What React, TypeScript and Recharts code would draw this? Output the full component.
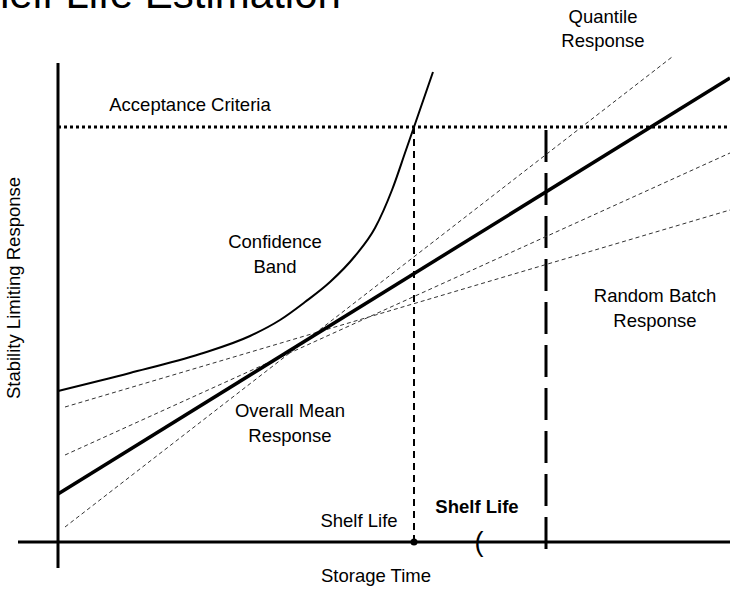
import { LineChart, Line, XAxis, YAxis, ReferenceLine, ReferenceDot } from 'recharts';

// storage time (x) and response (y) in chart units
const meanTime = [0, 67.2];
const meanResponse = [4.8, 46.4];

const bandTime = [0, 7.2, 14.2, 19.2, 22.2, 24.7, 27.2, 29.7, 31.7, 33.4, 34.8, 35.6, 37.5];
const bandResponse = [15.1, 16.9, 18.8, 20.6, 22.2, 24.0, 26.0, 28.6, 31.4, 35.2, 39.2, 41.5, 47.0];

const batchTime = [0.7, 67.2];
const batchLowResponse = [13.5, 33.2];
const batchHighResponse = [8.7, 38.9];

const quantileTime = [0.7, 61.4];
const quantileResponse = [1.5, 48.5];

const acceptance = 41.5;
const shelfLife = 35.6;
const batchShelfLife = 48.8;

const xDomain = [-5.8, 67.2];
const yDomain = [-4.7, 54.2];

const FONT = "Arial, 'Liberation Sans', sans-serif";

const toPoints = (t: number[], y: number[]) => t.map((v, i) => ({ t: v, y: y[i] }));

const meanData = toPoints(meanTime, meanResponse);
const bandData = toPoints(bandTime, bandResponse);
const batchLowData = toPoints(batchTime, batchLowResponse);
const batchHighData = toPoints(batchTime, batchHighResponse);
const quantileData = toPoints(quantileTime, quantileResponse);

// annotation text: anchor point (baseline of first line)
const notes = [
  { t: 13.2, y: 43.15, lines: ['Acceptance Criteria'], gap: 25 },
  { t: 54.5, y: 51.9, lines: ['Quantile', 'Response'], gap: 24 },
  { t: 21.7, y: 29.4, lines: ['Confidence', 'Band'], gap: 25 },
  { t: 59.7, y: 24.0, lines: ['Random Batch', 'Response'], gap: 25 },
  { t: 23.2, y: 12.5, lines: ['Overall Mean', 'Response'], gap: 25 },
  { t: 30.1, y: 1.5, lines: ['Shelf Life'], gap: 25 },
  { t: 41.9, y: 2.9, lines: ['Shelf Life'], gap: 25, bold: true },
  { t: 31.8, y: -3.95, lines: ['Storage Time'], gap: 25 },
];

const noteLabel = (lines: string[], gap: number, bold = false) => (props: any) => {
  const { x, y } = props.viewBox;
  return (
    <text x={x} y={y} textAnchor="middle" fontSize={18.5} fontFamily={FONT} fontWeight={bold ? 'bold' : 'normal'} fill="#000">
      {lines.map((l, i) => (
        <tspan key={i} x={x} dy={i === 0 ? 0 : gap}>
          {l}
        </tspan>
      ))}
    </text>
  );
};

const titleLabel = (props: any) => {
  const { x, y } = props.viewBox;
  return (
    <text x={x} y={y} fontSize={42} fontFamily={FONT} fill="#000">
      Shelf Life Estimation
    </text>
  );
};

const yTitle = (props: any) => {
  const { x, y } = props.viewBox;
  return (
    <text x={x} y={y} textAnchor="middle" fontSize={18.5} fontFamily={FONT} fill="#000" transform={`rotate(-90 ${x} ${y})`}>
      Stability Limiting Response
    </text>
  );
};

const paren = (props: any) => {
  const { x, y } = props.viewBox;
  return (
    <text x={x} y={y} textAnchor="middle" fontSize={27} fontFamily={FONT} fontWeight={300} fill="#000">
      (
    </text>
  );
};

export default function App() {
  return (
    <div style={{ position: 'absolute', left: 0, top: 0, background: '#fff' }}>
      <LineChart width={730} height={589} margin={{ top: 0, right: 0, bottom: 0, left: 0 }}>
        <XAxis hide type="number" dataKey="t" domain={xDomain} allowDataOverflow />
        <YAxis hide type="number" domain={yDomain} allowDataOverflow />

        {/* axes */}
        <ReferenceLine segment={[{ x: -4, y: 0 }, { x: 67.2, y: 0 }]} stroke="#000" strokeWidth={3} ifOverflow="visible" />
        <ReferenceLine segment={[{ x: 0, y: 47.9 }, { x: 0, y: -2.6 }]} stroke="#000" strokeWidth={3} ifOverflow="visible" />

        <ReferenceLine
          segment={[{ x: 0, y: acceptance }, { x: 67.2, y: acceptance }]}
          stroke="#000"
          strokeWidth={3}
          strokeDasharray="3 3"
          ifOverflow="visible"
        />
        <ReferenceLine
          segment={[{ x: shelfLife, y: acceptance }, { x: shelfLife, y: 0 }]}
          stroke="#000"
          strokeWidth={2}
          strokeDasharray="7 5"
          ifOverflow="visible"
        />
        <ReferenceLine
          segment={[{ x: batchShelfLife, y: 41.2 }, { x: batchShelfLife, y: -0.8 }]}
          stroke="#000"
          strokeWidth={3}
          strokeDasharray="32 11"
          ifOverflow="visible"
        />

        <Line data={quantileData} dataKey="y" type="linear" stroke="#333" strokeWidth={1} strokeDasharray="4 3" dot={false} activeDot={false} isAnimationActive={false} />
        <Line data={batchHighData} dataKey="y" type="linear" stroke="#333" strokeWidth={1} strokeDasharray="4 3" dot={false} activeDot={false} isAnimationActive={false} />
        <Line data={batchLowData} dataKey="y" type="linear" stroke="#333" strokeWidth={1} strokeDasharray="4 3" dot={false} activeDot={false} isAnimationActive={false} />
        <Line data={bandData} dataKey="y" type="monotone" stroke="#000" strokeWidth={2} dot={false} activeDot={false} isAnimationActive={false} />
        <Line data={meanData} dataKey="y" type="linear" stroke="#000" strokeWidth={3.5} dot={false} activeDot={false} isAnimationActive={false} />

        <ReferenceDot x={shelfLife} y={0} r={3.5} fill="#000" stroke="none" ifOverflow="visible" />
        <ReferenceDot x={42.1} y={-0.85} r={0} ifOverflow="visible" label={{ content: paren }} />

        {notes.map((n, i) => (
          <ReferenceDot key={i} x={n.t} y={n.y} r={0} ifOverflow="visible" label={{ content: noteLabel(n.lines, n.gap, n.bold) }} />
        ))}
        <ReferenceDot x={-10} y={53.4} r={0} ifOverflow="visible" label={{ content: titleLabel }} />
        <ReferenceDot x={-3.8} y={25.4} r={0} ifOverflow="visible" label={{ content: yTitle }} />
      </LineChart>
    </div>
  );
}
